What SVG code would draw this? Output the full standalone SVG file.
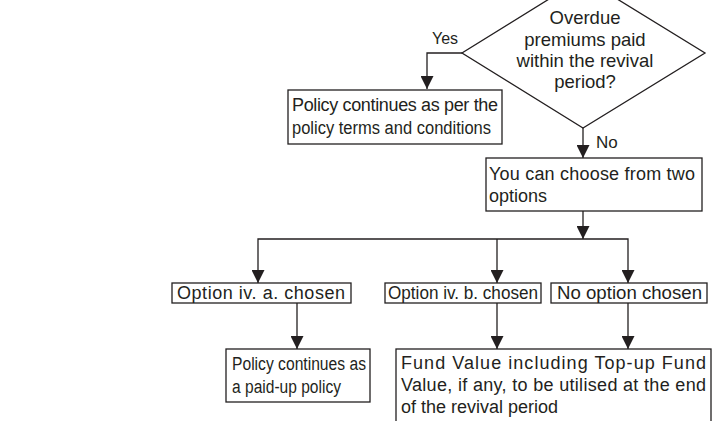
<svg xmlns="http://www.w3.org/2000/svg" width="716" height="421" viewBox="0 0 716 421">
<defs>
<marker id="ah" markerUnits="userSpaceOnUse" markerWidth="13" markerHeight="13" refX="13" refY="6.5" orient="auto" viewBox="0 0 13 13">
<path d="M0,0 L13,6.5 L0,13 z" fill="#231f20"/>
</marker>
<style>
.box{fill:#fff;stroke:#231f20;stroke-width:1.3}
.ln{fill:none;stroke:#231f20;stroke-width:1.3}
text{font-family:"Liberation Sans",Arial,sans-serif;font-size:18px;fill:#231f20}
.dt{font-size:18.5px;text-anchor:middle}
</style>
</defs>
<rect width="716" height="421" fill="#fff"/>
<g id="connectors">
<polyline class="ln" points="462,53 427,53 427,89" marker-end="url(#ah)"/>
<line class="ln" x1="583" y1="128" x2="583" y2="158" marker-end="url(#ah)"/>
<line class="ln" x1="583" y1="211" x2="583" y2="239" marker-end="url(#ah)"/>
<polyline class="ln" points="583,239 258,239 258,283" marker-end="url(#ah)"/>
<polyline class="ln" points="497,239 497,283" marker-end="url(#ah)"/>
<polyline class="ln" points="583,239 628,239 628,283" marker-end="url(#ah)"/>
<line class="ln" x1="297" y1="303" x2="297" y2="349" marker-end="url(#ah)"/>
<line class="ln" x1="497" y1="303" x2="497" y2="349" marker-end="url(#ah)"/>
<line class="ln" x1="628" y1="303" x2="628" y2="349" marker-end="url(#ah)"/>
<text x="432" y="44" style="font-size:16px">Yes</text>
<text x="596" y="148" style="font-size:17px">No</text>
</g>
<g id="decision">
<polygon class="box" points="583,-22 705,53 583,128 462,53"/>
<text class="dt" x="585" y="24">Overdue</text>
<text class="dt" x="585" y="46">premiums paid</text>
<text class="dt" x="585" y="67">within the revival</text>
<text class="dt" x="585" y="88">period?</text>
</g>
<g id="continue">
<rect class="box" x="288" y="90" width="214" height="54"/>
<text x="292" y="111" textLength="206" lengthAdjust="spacing">Policy continues as per the</text>
<text x="292" y="134" textLength="199" lengthAdjust="spacingAndGlyphs">policy terms and conditions</text>
</g>
<g id="choose">
<rect class="box" x="486" y="158" width="216" height="53"/>
<text x="489" y="180" textLength="206" lengthAdjust="spacing">You can choose from two</text>
<text x="489" y="202">options</text>
</g>
<g id="optA">
<rect class="box" x="172" y="283" width="179" height="20"/>
<text x="177" y="299" textLength="168" lengthAdjust="spacing">Option iv. a. chosen</text>
</g>
<g id="optB">
<rect class="box" x="385" y="283" width="156" height="20"/>
<text x="388" y="299" textLength="150" lengthAdjust="spacingAndGlyphs">Option iv. b. chosen</text>
</g>
<g id="optNone">
<rect class="box" x="551" y="283" width="156" height="20"/>
<text x="557" y="299" textLength="145" lengthAdjust="spacingAndGlyphs">No option chosen</text>
</g>
<g id="paidup">
<rect class="box" x="226" y="349" width="144" height="53"/>
<text x="232" y="370" textLength="134" lengthAdjust="spacingAndGlyphs">Policy continues as</text>
<text x="232" y="393" textLength="109" lengthAdjust="spacingAndGlyphs">a paid-up policy</text>
</g>
<g id="fund">
<rect class="box" x="396" y="349" width="315" height="80"/>
<text x="401" y="369" textLength="305" lengthAdjust="spacing">Fund Value including Top-up Fund</text>
<text x="401" y="391" textLength="305" lengthAdjust="spacing">Value, if any, to be utilised at the end</text>
<text x="401" y="413">of the revival period</text>
</g>
</svg>
